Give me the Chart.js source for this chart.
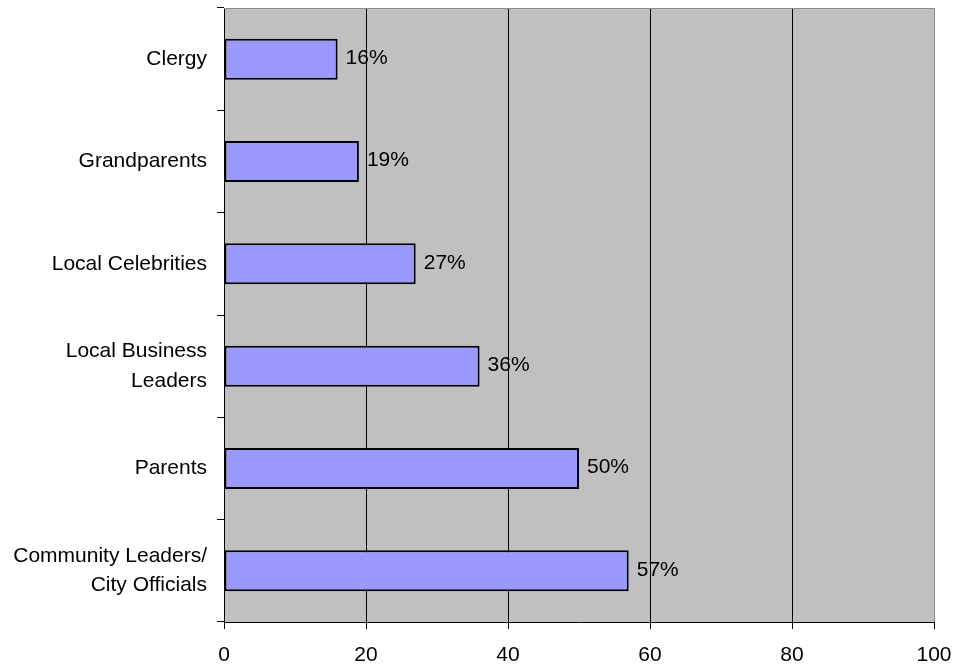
<!DOCTYPE html>
<html>
<head>
<meta charset="utf-8">
<script src="https://cdn.jsdelivr.net/npm/chart.js@4/dist/chart.umd.min.js"></script>
<style>
    html, body { margin: 0; padding: 0; background: #fff; }
    #wrap { width: 957px; height: 667px; }
</style>
</head>
<body>
<div id="wrap"><canvas id="myChart" width="957" height="667"></canvas></div>
<script>
var categories = ['Clergy', 'Grandparents', 'Local Celebrities', ['Local Business', 'Leaders'], 'Parents', ['Community Leaders/', 'City Officials']];
var values = [16, 19, 27, 36, 50, 57];
var xTicks = [0, 20, 40, 60, 80, 100];

var plotBackground = {
    id: 'plotBackground',
    beforeDraw: function (chart) {
        var a = chart.chartArea;
        var ctx = chart.ctx;
        ctx.save();
        ctx.fillStyle = '#c0c0c0';
        ctx.fillRect(a.left, a.top, a.right - a.left, a.bottom - a.top);
        ctx.restore();
    },
    afterDraw: function (chart) {
        var a = chart.chartArea;
        var ctx = chart.ctx;
        ctx.save();
        ctx.strokeStyle = '#8c8c8c';
        ctx.lineWidth = 1;
        ctx.beginPath();
        ctx.moveTo(a.left, a.top + 0.5);
        ctx.lineTo(a.right, a.top + 0.5);
        ctx.stroke();
        ctx.restore();
    }
};

var barLabels = {
    id: 'barLabels',
    afterDatasetsDraw: function (chart) {
        var ctx = chart.ctx;
        var meta = chart.getDatasetMeta(0);
        ctx.save();
        ctx.font = '21px "Liberation Sans", Arial, sans-serif';
        ctx.fillStyle = '#000';
        ctx.textAlign = 'left';
        ctx.textBaseline = 'middle';
        meta.data.forEach(function (bar, i) {
            ctx.fillText(values[i] + '%', bar.x + 8, bar.y - 1);
        });
        ctx.restore();
    }
};

Chart.defaults.font.family = '"Liberation Sans", Arial, sans-serif';
Chart.defaults.font.size = 21;
Chart.defaults.color = '#000';

var ctx = document.getElementById('myChart').getContext('2d');
new Chart(ctx, {
    type: 'bar',
    data: {
        labels: categories,
        datasets: [{
            data: values,
            backgroundColor: '#9999ff',
            borderColor: '#000',
            borderWidth: 2,
            borderSkipped: false,
            categoryPercentage: 1,
            barPercentage: 0.4
        }]
    },
    options: {
        indexAxis: 'y',
        responsive: false,
        animation: false,
        layout: { padding: { top: 8, right: 23, bottom: 0, left: 0 } },
        plugins: {
            legend: { display: false },
            tooltip: { enabled: false }
        },
        scales: {
            x: {
                min: 0,
                max: 100,
                afterBuildTicks: function (scale) {
                    scale.ticks = xTicks.map(function (v) { return { value: v }; });
                },
                afterFit: function (scale) {
                    scale.height = 45;
                    scale.paddingLeft = 0;
                    scale.paddingRight = 0;
                },
                grid: {
                    color: function (c) { return c.tick && c.tick.value === 100 ? '#8c8c8c' : '#000'; },
                    tickColor: '#000',
                    tickLength: 7,
                    lineWidth: 1
                },
                border: { color: '#000', width: 1 },
                ticks: { padding: 14, maxRotation: 0 }
            },
            y: {
                afterFit: function (scale) {
                    scale.width = 224;
                    scale.paddingTop = 0;
                    scale.paddingBottom = 0;
                },
                grid: {
                    offset: true,
                    drawOnChartArea: false,
                    color: '#000',
                    tickLength: 7
                },
                border: { color: '#000', width: 1 },
                ticks: { padding: 10, font: { lineHeight: 1.4 } }
            }
        }
    },
    plugins: [plotBackground, barLabels]
});
</script>
</body>
</html>
